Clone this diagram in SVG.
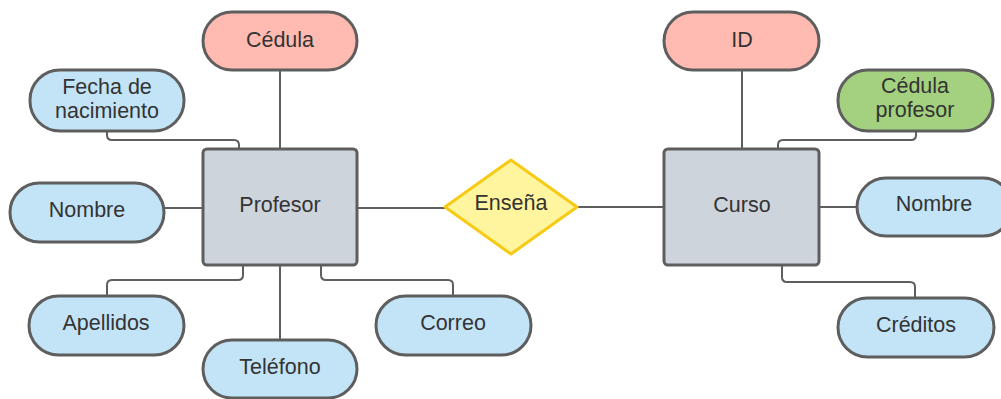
<svg xmlns="http://www.w3.org/2000/svg" width="1001" height="399" viewBox="0 0 1001 399">
  <style>
    .attr { stroke: #5e5e5e; stroke-width: 3; }
    .key { fill: #ffbbb1; }
    .plain { fill: #c3e4f7; }
    .fk { fill: #a3d17f; }
    .entity { fill: #ced4dc; stroke: #5e5e5e; stroke-width: 3; }
    .rel { fill: #fff59e; stroke: #f7cb15; stroke-width: 3; stroke-linejoin: round; }
    .lbl { font-family: "Liberation Sans", Arial, sans-serif; font-size: 21.5px; fill: #333333; text-anchor: middle; dominant-baseline: central; }
    .edge { fill: none; stroke: #5e5e5e; stroke-width: 2; }
  </style>

  <!-- connectors -->
  <g id="connectors" class="edge">
    <!-- Profesor attributes -->
    <path d="M280 70 V149"/>
    <path d="M107 131 V135 Q107 140 112 140 H234 Q239 140 239 145 V149"/>
    <path d="M164 208 H203"/>
    <path d="M243 265 V275 Q243 280 238 280 H112 Q107 280 107 285 V296"/>
    <path d="M280 265 V340"/>
    <path d="M321 265 V275 Q321 280 326 280 H448 Q453 280 453 285 V296"/>
    <!-- relationship -->
    <path d="M357 208 H445"/>
    <path d="M577 207 H664"/>
    <!-- Curso attributes -->
    <path d="M742 70 V149"/>
    <path d="M916 131 V135 Q916 140 911 140 H783 Q778 140 778 145 V149"/>
    <path d="M819 207 H857"/>
    <path d="M782 265 V277 Q782 282 787 282 H910 Q915 282 915 287 V298"/>
  </g>

  <!-- Profesor entity and its attributes -->
  <g id="profesor">
    <rect class="entity" x="203" y="149" width="154" height="116" rx="4"/>
    <text class="lbl" x="280" y="205">Profesor</text>
  </g>
  <g id="profesor-cedula">
    <rect class="attr key" x="203" y="12" width="154" height="58" rx="29"/>
    <text class="lbl" x="280" y="40">Cédula</text>
  </g>
  <g id="profesor-fecha">
    <rect class="attr plain" x="30" y="70" width="154" height="61" rx="30"/>
    <text class="lbl" x="107" y="87">Fecha de</text>
    <text class="lbl" x="107" y="111">nacimiento</text>
  </g>
  <g id="profesor-nombre">
    <rect class="attr plain" x="10" y="183" width="154" height="59" rx="29.5"/>
    <text class="lbl" x="87" y="210">Nombre</text>
  </g>
  <g id="profesor-apellidos">
    <rect class="attr plain" x="29" y="296" width="155" height="59" rx="29.5"/>
    <text class="lbl" x="106" y="323">Apellidos</text>
  </g>
  <g id="profesor-telefono">
    <rect class="attr plain" x="203" y="340" width="154" height="58" rx="29"/>
    <text class="lbl" x="280" y="367">Teléfono</text>
  </g>
  <g id="profesor-correo">
    <rect class="attr plain" x="376" y="296" width="155" height="59" rx="29.5"/>
    <text class="lbl" x="453" y="323">Correo</text>
  </g>

  <!-- relationship -->
  <g id="ensena">
    <path class="rel" d="M511 160 L577 207 L511 254 L445 207 Z"/>
    <text class="lbl" x="511" y="203">Enseña</text>
  </g>

  <!-- Curso entity and its attributes -->
  <g id="curso">
    <rect class="entity" x="664" y="149" width="155" height="116" rx="4"/>
    <text class="lbl" x="742" y="205">Curso</text>
  </g>
  <g id="curso-id">
    <rect class="attr key" x="664" y="12" width="155" height="58" rx="29"/>
    <text class="lbl" x="742" y="40">ID</text>
  </g>
  <g id="curso-cedula-profesor">
    <rect class="attr fk" x="838" y="70" width="155" height="61" rx="30"/>
    <text class="lbl" x="915" y="86">Cédula</text>
    <text class="lbl" x="915" y="110">profesor</text>
  </g>
  <g id="curso-nombre">
    <rect class="attr plain" x="857" y="178" width="155" height="58" rx="29"/>
    <text class="lbl" x="934" y="204">Nombre</text>
  </g>
  <g id="curso-creditos">
    <rect class="attr plain" x="838" y="298" width="156" height="59" rx="29.5"/>
    <text class="lbl" x="916" y="325">Créditos</text>
  </g>
</svg>
